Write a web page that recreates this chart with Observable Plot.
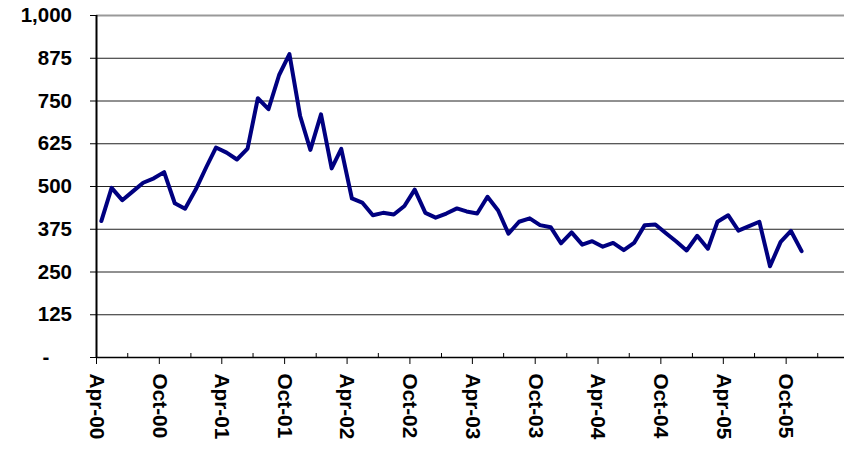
<!DOCTYPE html>
<html>
<head>
<meta charset="utf-8">
<script src="https://cdn.jsdelivr.net/npm/d3@7"></script>
<script src="https://cdn.jsdelivr.net/npm/@observablehq/plot@0.6"></script>
<style>
  html, body { margin: 0; padding: 0; background: #fff; }
  #chart svg { display: block; }
</style>
</head>
<body>
<div id="chart"></div>
<script>
// Monthly series, Apr-2000 .. Nov-2005
const startMonth = "2000-04";
const values = [
  399, 496, 460, 485, 511, 524, 542, 451, 435, 491, 557, 614,
  599, 579, 611, 758, 726, 826, 887, 707, 607, 711, 553, 610,
  465, 453, 416, 423, 418, 443, 491, 423, 409, 421, 436, 427,
  421, 470, 430, 362, 397, 407, 387, 381, 334, 366, 330, 340,
  324, 335, 314, 335, 387, 389, 364, 339, 313, 356, 318, 397,
  416, 371, 384, 397, 267, 338, 370, 311
];
const yTicks = [0, 125, 250, 375, 500, 625, 750, 875, 1000];
const yTickLabels = ["-\u00a0\u00a0\u00a0\u00a0", "125", "250", "375", "500", "625", "750", "875", "1,000"];
const xMajorLabels = ["Apr-00","Oct-00","Apr-01","Oct-01","Apr-02","Oct-02","Apr-03","Oct-03","Apr-04","Oct-04","Apr-05","Oct-05"];
const xMinorLabels = ["Jul-00","Jan-01","Jul-01","Jan-02","Jul-02","Jan-03","Jul-03","Jan-04","Jul-04","Jan-05","Jul-05","Jan-06"];

const parseLabel = d3.utcParse("%b-%y");
const start = d3.utcParse("%Y-%m")(startMonth);
const data = values.map((v, i) => ({date: d3.utcDay.offset(d3.utcMonth.offset(start, i), 14), value: v}));
const majorTicks = xMajorLabels.map(parseLabel);
const minorTicks = xMinorLabels.map(parseLabel);
const fmtX = d3.utcFormat("%b-%y");
const yLabelOf = new Map(yTicks.map((t, i) => [t, yTickLabels[i]]));

const font = "'Liberation Sans', Arial, sans-serif";

const chart = Plot.plot({
  width: 844,
  height: 449,
  marginLeft: 96,
  marginRight: 0,
  marginTop: 15,
  marginBottom: 92,
  style: {fontFamily: font, fontSize: "20.5px", fontWeight: "bold", color: "#000", background: "#fff"},
  x: {type: "utc", domain: [start, new Date(Date.UTC(2006, 2, 20))]},
  y: {domain: [0, 1000]},
  marks: [
    Plot.ruleY(yTicks.filter(t => t > 0 && t < 1000), {stroke: "#222", strokeWidth: 1}),
    Plot.ruleY([1000], {stroke: "#999", strokeWidth: 2}),
    Plot.axisY({ticks: yTicks, tickFormat: d => yLabelOf.get(d), tickSize: 6, tickPadding: 18.5, stroke: "#000", strokeOpacity: 1, fontSize: 20.5, fontWeight: "bold", label: null}),
    Plot.axisX({ticks: majorTicks, tickFormat: fmtX, tickSize: 7, tickPadding: 9, tickRotate: 90, stroke: "#000", strokeOpacity: 1, fontSize: 20.8, fontWeight: "bold", label: null}),
    Plot.axisX({ticks: minorTicks, tickFormat: () => "", tickSize: 4, dy: -4, stroke: "#000", strokeOpacity: 1, label: null}),
    Plot.ruleY([0], {stroke: "#000", strokeWidth: 1.5}),
    Plot.ruleX([start], {stroke: "#000", strokeWidth: 2}),
    Plot.line(data, {x: "date", y: "value", stroke: "#000080", strokeWidth: 4, strokeLinejoin: "round"})
  ]
});
document.getElementById("chart").appendChild(chart);
</script>
</body>
</html>
